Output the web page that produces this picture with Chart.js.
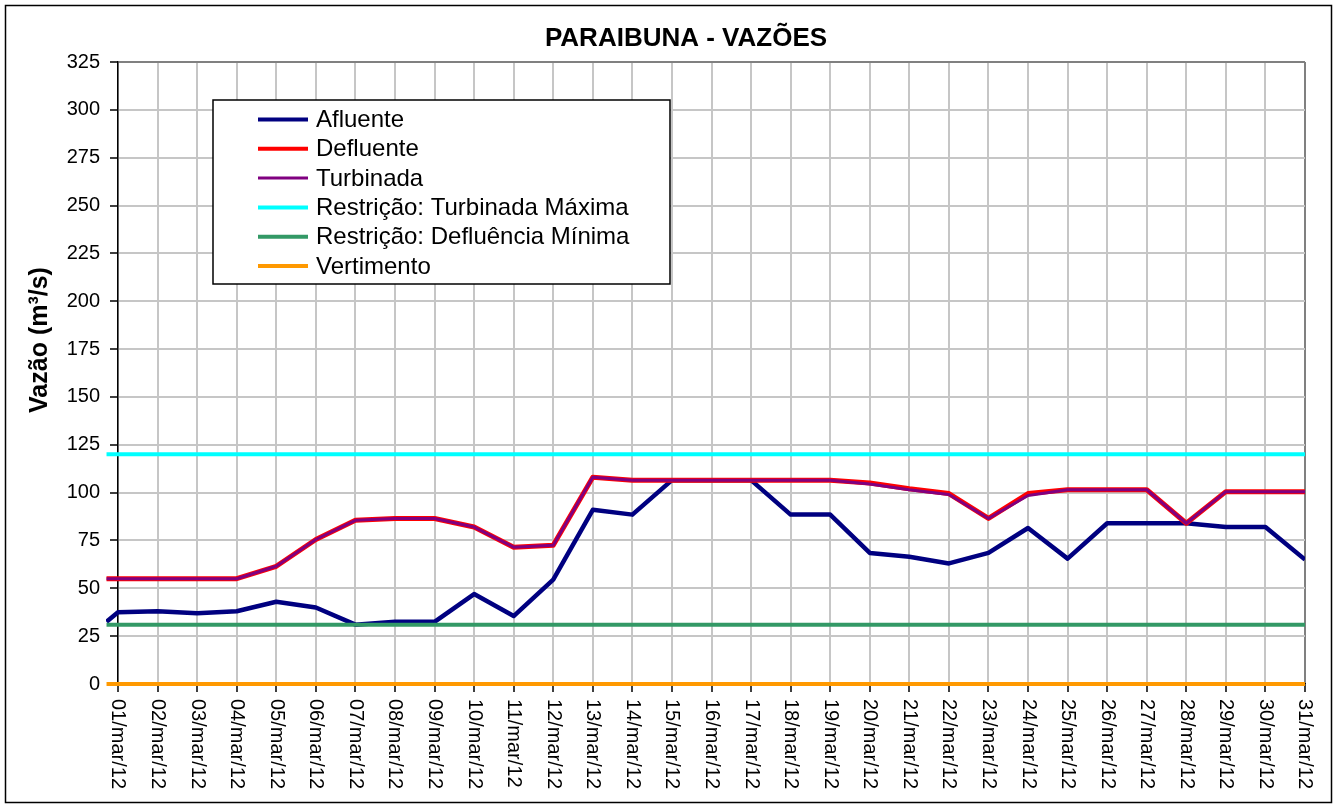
<!DOCTYPE html>
<html>
<head>
<meta charset="utf-8">
<script src="https://cdn.jsdelivr.net/npm/chart.js@4.4.1/dist/chart.umd.min.js"></script>
<style>
  html, body { margin: 0; padding: 0; background: #fff; }
  canvas { display: block; }
</style>
</head>
<body>
<canvas id="grafico" width="1338" height="809"></canvas>
<script>
const titulo = 'PARAIBUNA - VAZÕES';
const tituloY = 'Vazão (m³/s)';

// posição de cada ponto em dias (o primeiro fica um pouco antes de 01/mar)
const dias = [0.71, 1, 2, 3, 4, 5, 6, 7, 8, 9, 10, 11, 12, 13, 14, 15, 16,
  17, 18, 19, 20, 21, 22, 23, 24, 25, 26, 27, 28, 29, 30, 31];

const rotulos = ['01/mar/12', '02/mar/12', '03/mar/12', '04/mar/12', '05/mar/12',
  '06/mar/12', '07/mar/12', '08/mar/12', '09/mar/12', '10/mar/12', '11/mar/12',
  '12/mar/12', '13/mar/12', '14/mar/12', '15/mar/12', '16/mar/12', '17/mar/12',
  '18/mar/12', '19/mar/12', '20/mar/12', '21/mar/12', '22/mar/12', '23/mar/12',
  '24/mar/12', '25/mar/12', '26/mar/12', '27/mar/12', '28/mar/12', '29/mar/12',
  '30/mar/12', '31/mar/12'];

const afluente = [32.5, 37.5, 38, 37, 38, 43, 40, 31, 32.5, 32.5, 47, 35.5, 54.5,
  91, 88.5, 106.5, 106.5, 106.5, 88.5, 88.5, 68.5, 66.5, 63, 68.5, 81.5, 65.5,
  84, 84, 84, 82, 82, 65];
const defluente = [55, 55, 55, 55, 55, 61.5, 75.5, 85.5, 86.5, 86.5, 82, 71.5, 72.5,
  108, 106.5, 106.5, 106.5, 106.5, 106.5, 106.5, 105, 102, 99.5, 86.5, 99.5, 101.5,
  101.5, 101.5, 84, 100.5, 100.5, 100.5];
const turbinada = [55, 55, 55, 55, 55, 61.5, 75.5, 85.5, 86.5, 86.5, 82, 71.5, 72.5,
  108, 106.5, 106.5, 106.5, 106.5, 106.5, 106.5, 104.5, 101.5, 99, 86.5, 98.5, 101.5,
  101.5, 101.5, 84, 100.5, 100.5, 100.5];
const turbinadaMax = [120, 120, 120, 120, 120, 120, 120, 120, 120, 120, 120, 120, 120,
  120, 120, 120, 120, 120, 120, 120, 120, 120, 120, 120, 120, 120, 120, 120, 120,
  120, 120, 120];
const defluenciaMin = [31, 31, 31, 31, 31, 31, 31, 31, 31, 31, 31, 31, 31, 31, 31, 31,
  31, 31, 31, 31, 31, 31, 31, 31, 31, 31, 31, 31, 31, 31, 31, 31];
const vertimento = [0, 0, 0, 0, 0, 0, 0, 0, 0, 0, 0, 0, 0, 0, 0, 0, 0, 0, 0, 0, 0, 0,
  0, 0, 0, 0, 0, 0, 0, 0, 0, 0];

const fonte = '"Liberation Sans", Arial, sans-serif';

function pontos(valores) {
    return valores.map((v, i) => ({ x: dias[i], y: v }));
}

function serie(label, valores, cor, largura, ordem) {
    return {
        label: label,
        data: pontos(valores),
        borderColor: cor,
        backgroundColor: cor,
        borderWidth: largura,
        pointRadius: 0,
        tension: 0,
        borderJoinStyle: 'round',
        order: ordem,
        clip: { left: 12, top: 5, right: 0, bottom: 5 }
    };
}

// moldura, títulos, rótulos girados do eixo x e legenda
const extras = {
    id: 'extras',
    beforeDraw(chart) {
        const ctx = chart.ctx;
        ctx.save();
        ctx.fillStyle = '#fff';
        ctx.fillRect(0, 0, chart.width, chart.height);
        ctx.restore();
    },
    afterDraw(chart) {
        const ctx = chart.ctx;
        const x = chart.scales.x;
        ctx.save();

        ctx.strokeStyle = '#000';
        ctx.lineWidth = 1.5;
        ctx.strokeRect(5.5, 5.5, 1326, 797);

        ctx.fillStyle = '#000';
        ctx.textAlign = 'center';
        ctx.textBaseline = 'middle';
        ctx.font = 'bold 26px ' + fonte;
        ctx.fillText(titulo, 686, 39);

        ctx.save();
        ctx.translate(40, 340);
        ctx.rotate(-Math.PI / 2);
        ctx.font = 'bold 25px ' + fonte;
        ctx.fillText(tituloY, 0, 0);
        ctx.restore();

        // rótulos do eixo x, lidos de cima para baixo
        ctx.font = '20px ' + fonte;
        ctx.textAlign = 'left';
        x.ticks.forEach(t => {
            const px = x.getPixelForValue(t.value);
            ctx.save();
            ctx.translate(px, 699);
            ctx.rotate(Math.PI / 2);
            ctx.fillText(rotulos[t.value - 1], 0, 0);
            ctx.restore();
        });

        // legenda
        ctx.fillStyle = '#fff';
        ctx.fillRect(213, 100, 457, 184);
        ctx.strokeStyle = '#000';
        ctx.lineWidth = 1.5;
        ctx.strokeRect(213, 100, 457, 184);
        ctx.font = '24px ' + fonte;
        chart.data.datasets.forEach((ds, i) => {
            const y = 119.5 + i * 29.3;
            ctx.strokeStyle = ds.borderColor;
            ctx.lineWidth = Math.min(ds.borderWidth, 4);
            ctx.beginPath();
            ctx.moveTo(258, y);
            ctx.lineTo(308, y);
            ctx.stroke();
            ctx.fillStyle = '#000';
            ctx.fillText(ds.label, 316, y + 1);
        });

        ctx.restore();
    }
};

new Chart(document.getElementById('grafico'), {
    type: 'line',
    data: {
        datasets: [
            serie('Afluente', afluente, '#000080', 4.5, 6),
            serie('Defluente', defluente, '#ff0000', 5, 5),
            serie('Turbinada', turbinada, '#800080', 3, 4),
            serie('Restrição: Turbinada Máxima', turbinadaMax, '#00ffff', 4, 3),
            serie('Restrição: Defluência Mínima', defluenciaMin, '#339966', 4, 2),
            serie('Vertimento', vertimento, '#ff9900', 4, 1)
        ]
    },
    options: {
        responsive: false,
        animation: false,
        devicePixelRatio: 1,
        layout: { padding: { top: 62, right: 33, left: 0, bottom: 0 } },
        plugins: {
            legend: { display: false },
            title: { display: false },
            tooltip: { enabled: false }
        },
        scales: {
            x: {
                type: 'linear',
                min: 1,
                max: 31,
                ticks: {
                    stepSize: 1,
                    autoSkip: false,
                    minRotation: 90,
                    maxRotation: 90,
                    color: 'rgba(0,0,0,0)',
                    font: { family: fonte, size: 20 },
                    callback: v => rotulos[v - 1]
                },
                grid: {
                    color: c => (c.tick && c.tick.value === 31) ? '#808080' : '#c6c6c6',
                    lineWidth: 2,
                    tickColor: '#000',
                    tickLength: 8,
                    tickWidth: 1.5
                },
                border: { color: '#000', width: 1.5 },
                afterFit: s => { s.height = 125; }
            },
            y: {
                min: 0,
                max: 325,
                ticks: {
                    stepSize: 25,
                    color: '#000',
                    padding: 10,
                    font: { family: fonte, size: 20 }
                },
                grid: {
                    color: c => (c.tick && c.tick.value === 325) ? '#808080' : '#c6c6c6',
                    lineWidth: 2,
                    tickColor: '#000',
                    tickLength: 8,
                    tickWidth: 1.5
                },
                border: { color: '#000', width: 1.5 },
                afterFit: s => { s.width = 118; }
            }
        }
    },
    plugins: [extras]
});
</script>
</body>
</html>
